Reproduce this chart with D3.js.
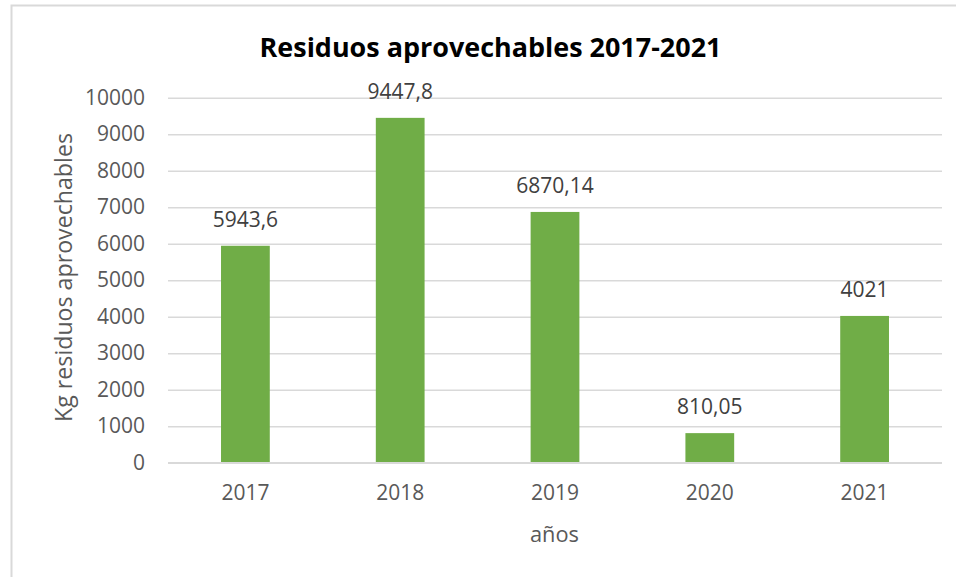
<!DOCTYPE html>
<html>
<head>
<meta charset="utf-8">
<script src="https://cdn.jsdelivr.net/npm/d3@7"></script>
<style>
  html, body { margin: 0; padding: 0; background: #fff; }
  svg { display: block; }
</style>
</head>
<body>
<svg id="chart" width="956" height="577"></svg>
<script>
const categories = ["2017", "2018", "2019", "2020", "2021"];
const values = [5943.6, 9447.8, 6870.14, 810.05, 4021];
const valueLabels = ["5943,6", "9447,8", "6870,14", "810,05", "4021"];
const yTicks = [0, 1000, 2000, 3000, 4000, 5000, 6000, 7000, 8000, 9000, 10000];
const titleText = "Residuos aprovechables 2017-2021";
const yTitleText = "Kg residuos aprovechables";
const xTitleText = "años";

const W = 956, H = 577;
const margin = { left: 168, right: 14, top: 97.7, bottom: 114.3 };
const FONT = "'Open Sans', sans-serif";

const svg = d3.select("#chart");

// chart border (right/bottom edges are outside the frame)
svg.append("rect")
  .attr("x", 11.5).attr("y", 5.5)
  .attr("width", W + 20).attr("height", H + 20)
  .attr("fill", "#fff").attr("stroke", "#D9D9D9").attr("stroke-width", 2);

const x = d3.scaleBand().domain(categories)
  .range([margin.left, W - margin.right]).paddingInner(0.685).paddingOuter(0.3425);
const y = d3.scaleLinear().domain([0, 10000]).range([H - margin.bottom, margin.top]);

// gridlines
const yAxis = d3.axisLeft(y).tickValues(yTicks)
  .tickSize(-(W - margin.right - margin.left)).tickPadding(23).tickFormat(d3.format("d"));
const gy = svg.append("g").attr("transform", `translate(${margin.left},0)`).call(yAxis);
gy.select(".domain").remove();
gy.selectAll(".tick line").attr("stroke", "#D9D9D9").attr("stroke-width", 1.5);
gy.selectAll(".tick text").attr("fill", "#595959").attr("font-family", FONT).attr("font-size", 21);

// bars
svg.append("g").selectAll("rect").data(values).join("rect")
  .attr("x", (d, i) => x(categories[i]))
  .attr("width", x.bandwidth())
  .attr("y", d => y(d))
  .attr("height", d => y(0) - y(d))
  .attr("fill", "#70AD47");

// data labels
svg.append("g").selectAll("text").data(values).join("text")
  .attr("x", (d, i) => x(categories[i]) + x.bandwidth() / 2)
  .attr("y", d => y(d) - 19)
  .attr("text-anchor", "middle")
  .attr("fill", "#404040").attr("font-family", FONT).attr("font-size", 21)
  .text((d, i) => valueLabels[i]);

// x axis
const xAxis = d3.axisBottom(x).tickSize(0).tickPadding(22);
const gx = svg.append("g").attr("transform", `translate(0,${y(0)})`).call(xAxis);
gx.select(".domain").attr("stroke", "#D9D9D9").attr("stroke-width", 1.5)
  .attr("d", `M${margin.left},0H${W - margin.right}`);
gx.selectAll(".tick text").attr("fill", "#595959").attr("font-family", FONT).attr("font-size", 21);

function fit(sel, target) {
  const n = sel.node();
  const fs = parseFloat(sel.attr("font-size"));
  const l = n.getComputedTextLength();
  sel.attr("font-size", fs * target / l);
}

// title
const title = svg.append("text")
  .attr("x", 490.5).attr("y", 57)
  .attr("text-anchor", "middle")
  .attr("font-family", FONT).attr("font-weight", "bold").attr("font-size", 25)
  .attr("fill", "#000").text(titleText);
fit(title, 462);

// y title
const yt = svg.append("text")
  .attr("transform", `translate(72,277.5) rotate(-90)`)
  .attr("text-anchor", "middle")
  .attr("font-family", FONT).attr("font-size", 21)
  .attr("fill", "#595959").text(yTitleText);
fit(yt, 289);

// x title
const xt = svg.append("text")
  .attr("x", 554.5).attr("y", 542)
  .attr("text-anchor", "middle")
  .attr("font-family", FONT).attr("font-size", 21)
  .attr("fill", "#595959").text(xTitleText);
fit(xt, 49);
</script>
</body>
</html>
